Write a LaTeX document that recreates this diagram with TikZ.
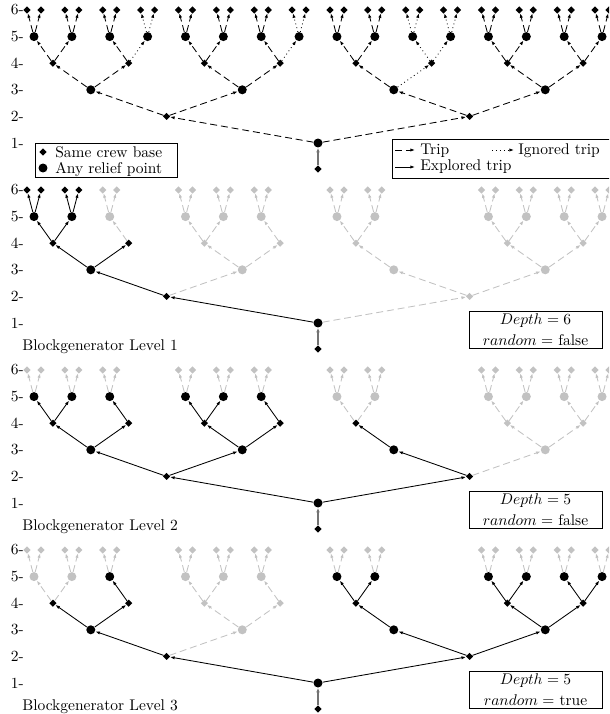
\documentclass[tikz,border=0pt]{standalone}
\usetikzlibrary{shapes.geometric,arrows.meta}
\definecolor{paleink}{gray}{0.76}
\definecolor{stemink}{gray}{0.45}
\tikzset{
  x=0.645pt, y=-0.645pt,
  crew/.style={diamond, inner sep=0pt, minimum size=4.8pt},
  relief/.style={circle, inner sep=0pt, minimum size=5.8pt},
  nd-n/.style={fill=black}, nd-i/.style={fill=black},
  nd-b/.style={fill=black}, nd-g/.style={fill=paleink},
  trip/.style={line width=0.55pt, -{Latex[length=3pt,width=2.1pt]}},
  ed-n/.style={trip, dash pattern=on 4.5pt off 2.5pt},
  ed-i/.style={trip, dotted},
  ed-b/.style={trip},
  ed-g/.style={trip, paleink, dash pattern=on 4.5pt off 2.5pt},
  stem/.style={line width=0.9pt, stemink, -{Latex[length=3pt,width=2.4pt]}},
  lvl/.style={anchor=east, inner sep=0pt},
  frame/.style={draw, line width=0.5pt, inner sep=0pt},
  txt/.style={inner sep=0pt},
}
% #1 vertical offset, #2 name prefix, #3..#7 states of levels 2,3,4,5 and leaves
% states: n trip, i ignored trip, b explored, g unexplored, x not generated
\newcommand\treepanel[7]{%
  \begin{scope}[shift={(0,#1)}]
    \foreach \l in {1,...,6}
      \node[lvl] (#2lv\l) at (24,{(6-\l)*26.6}) {\l-};
    \node[crew, fill=black] (#2s) at (318,159) {};
    \node[relief, fill=black] (#2r) at (318,133) {};
    \draw[stem] (#2s) -- (#2r);
    \foreach \st [count=\m from 0] in {#3}{%
      \if\st x\else
        \node[crew, nd-\st] (#2a\m) at ({34+37.87*(8*\m+3.5)},106.4) {};
        \draw[ed-\st] (#2r) -- (#2a\m);
      \fi}
    \foreach \st [count=\k from 0] in {#4}{%
      \if\st x\else
        \pgfmathtruncatemacro\up{\k/2}%
        \node[relief, nd-\st] (#2b\k) at ({34+37.87*(4*\k+1.5)},79.8) {};
        \draw[ed-\st] (#2a\up) -- (#2b\k);
      \fi}
    \foreach \st [count=\k from 0] in {#5}{%
      \if\st x\else
        \pgfmathtruncatemacro\up{\k/2}%
        \node[crew, nd-\st] (#2c\k) at ({34+37.87*(2*\k+0.5)},53.2) {};
        \draw[ed-\st] (#2b\up) -- (#2c\k);
      \fi}
    \foreach \st [count=\k from 0] in {#6}{%
      \if\st x\else
        \pgfmathtruncatemacro\up{\k/2}%
        \node[relief, nd-\st] (#2d\k) at ({34+37.87*\k},26.6) {};
        \draw[ed-\st] (#2c\up) -- (#2d\k);
      \fi}
    \foreach \st [count=\k from 0] in {#7}{%
      \if\st x\else
        \node[crew, nd-\st] (#2fl\k) at ({34+37.87*\k-7},0) {};
        \node[crew, nd-\st] (#2fr\k) at ({34+37.87*\k+7},0) {};
        \draw[ed-\st] (#2d\k) -- (#2fl\k);
        \draw[ed-\st] (#2d\k) -- (#2fr\k);
      \fi}
  \end{scope}}
% caption and parameter box under a tree
\newcommand\runinfo[5]{%
  \begin{scope}[shift={(0,#1)}]
    \node[txt, anchor=base west] (#2cap) at (22,160.5) {Blockgenerator Level #3};
    \node[frame, minimum width=85.8pt, minimum height=23.9pt] (#2box) at (535.5,139.5) {};
    \node[txt, anchor=base] (#2dep) at (535.5,134.5) {$Depth=#4$};
    \node[txt, anchor=base] (#2rnd) at (535.5,155) {$random=$ #5};
  \end{scope}}
\begin{document}
\begin{tikzpicture}
\useasboundingbox (0,0) rectangle (609,714);
\clip (0,0) rectangle (609,714);

% full search tree with ignored trips
\treepanel{10}{p}{n,n}{n,n,n,n}{n,n,n,n,n,i,n,n}%
  {n,n,n,i,n,n,n,i,n,n,i,i,n,n,n,n}{n,n,n,i,n,n,n,i,n,n,i,i,n,n,n,n}

% node legend
\node[frame, minimum width=91.6pt, minimum height=21.9pt] (keyA) at (106,160) {};
\node[crew, fill=black] (keyAd) at (43,152) {};
\node[relief, fill=black] (keyAc) at (43,168) {};
\node[txt, anchor=base west] (keyAdt) at (55,157.5) {Same crew base};
\node[txt, anchor=base west] (keyAct) at (55,173.5) {Any relief point};

% trip legend
\node[frame, minimum width=142pt, minimum height=25.2pt, anchor=north west] (keyB) at (392,139) {};
\coordinate (trA) at (395,150); \coordinate (trB) at (415,150);
\coordinate (igA) at (492,150); \coordinate (igB) at (514,150);
\coordinate (exA) at (395,167); \coordinate (exB) at (415,167);
\draw[ed-n] (trA) -- (trB);
\draw[ed-i] (igA) -- (igB);
\draw[ed-b] (exA) -- (exB);
\node[txt, anchor=base west] (trT) at (420,154.5) {Trip};
\node[txt, anchor=base west] (igT) at (518,154.5) {Ignored trip};
\node[txt, anchor=base west] (exT) at (420,171) {Explored trip};

% block generator, level 1
\treepanel{190}{q}{b,g}{b,g,g,g}{b,b,g,g,g,x,g,g}%
  {b,b,g,x,g,g,g,x,g,g,x,x,g,g,g,g}{b,b,g,x,g,g,g,x,g,g,x,x,g,g,g,g}
\runinfo{190}{q}{1}{6}{false}

% block generator, level 2
\treepanel{370}{u}{b,b}{b,b,b,g}{b,b,b,b,b,x,g,g}%
  {b,b,b,x,b,b,b,x,g,g,x,x,g,g,g,g}{g,g,g,x,g,g,g,x,g,g,x,x,g,g,g,g}
\runinfo{370}{u}{2}{5}{false}

% block generator, level 3
\treepanel{550}{v}{b,b}{b,g,b,b}{b,b,g,g,b,x,b,b}%
  {g,g,b,x,g,g,g,x,b,b,x,x,b,b,b,b}{g,g,g,x,g,g,g,x,g,g,x,x,g,g,g,g}
\runinfo{550}{v}{3}{5}{true}
\end{tikzpicture}
\end{document}
